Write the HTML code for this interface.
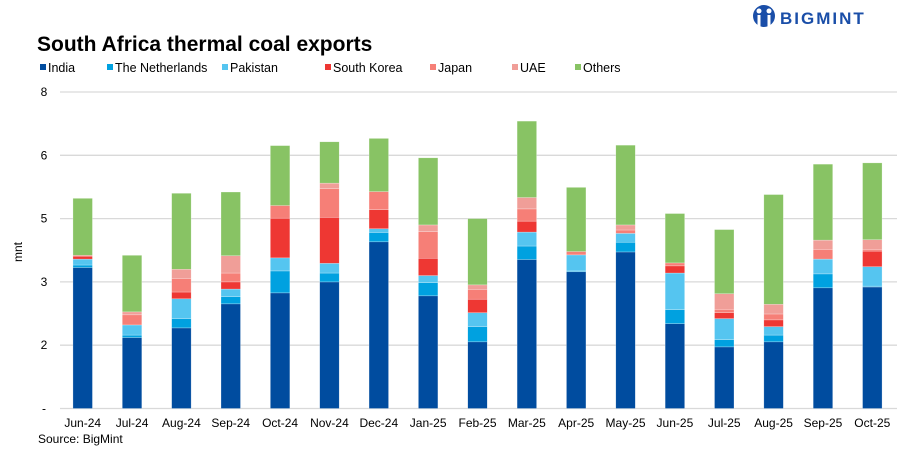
<!DOCTYPE html>
<html><head><meta charset="utf-8"><style>
body{margin:0;background:#fff;font-family:"Liberation Sans",Arial,sans-serif;}
#wrap{position:relative;width:907px;height:453px;overflow:hidden;}
svg text{font-family:"Liberation Sans",Arial,sans-serif;}
</style></head><body>
<div id="wrap">
<svg id="chart" width="907" height="453">
 <g>
  <circle cx="764" cy="16" r="11" fill="#1a4ea8"/>
  <circle cx="759" cy="11" r="2.5" fill="#fff"/><circle cx="769" cy="11" r="2.5" fill="#fff"/>
  <rect x="757.5" y="15" width="3" height="12" fill="#fff"/><rect x="767.5" y="15" width="3" height="12" fill="#fff"/>
  <text x="780" y="24" font-size="17" font-weight="bold" fill="#1a4ea8" letter-spacing="2">BIGMINT</text>
 </g>
 <text x="37" y="51" font-size="21" font-weight="bold" fill="#000">South Africa thermal coal exports</text>
 <g id="legend"></g>
 <g id="grid"></g>
 <g id="bars"></g>
 <g id="xlabels"></g>
 <text x="22" y="252" font-size="12" fill="#000" transform="rotate(-90 22 252)" text-anchor="middle">mnt</text>
 <text x="38" y="443" font-size="12" fill="#000">Source: BigMint</text>
</svg>
</div>
<script>
const categories=["Jun-24","Jul-24","Aug-24","Sep-24","Oct-24","Nov-24","Dec-24","Jan-25","Feb-25","Mar-25","Apr-25","May-25","Jun-25","Jul-25","Aug-25","Sep-25","Oct-25"];
const seriesNames=["India","The Netherlands","Pakistan","South Korea","Japan","UAE","Others"];
const india=[3.34,1.68,1.91,2.48,2.74,3.00,3.95,2.67,1.58,3.53,3.24,3.71,2.01,1.46,1.58,2.86,2.88];
const netherlands=[0.06,0.06,0.22,0.17,0.52,0.21,0.22,0.31,0.36,0.32,0.02,0.23,0.33,0.17,0.16,0.33,0.02];
const pakistan=[0.14,0.24,0.47,0.18,0.31,0.23,0.09,0.17,0.33,0.33,0.38,0.21,0.87,0.50,0.20,0.35,0.46];
const southKorea=[0.07,0.00,0.16,0.17,0.94,1.09,0.45,0.41,0.32,0.26,0.00,0.00,0.17,0.14,0.16,0.00,0.37];
const japan=[0.02,0.24,0.32,0.21,0.30,0.68,0.43,0.63,0.23,0.29,0.08,0.08,0.07,0.08,0.14,0.23,0.04];
const uae=[0.00,0.07,0.22,0.41,0.00,0.13,0.00,0.16,0.11,0.27,0.00,0.12,0.00,0.37,0.23,0.22,0.23];
const others=[1.35,1.34,1.80,1.51,1.42,0.98,1.26,1.59,1.57,1.81,1.52,1.89,1.17,1.52,2.60,1.80,1.82];
const tickValues=[0,1.5,3,4.5,6,7.5];
const tickLabels=["-","2","3","5","6","8"];
const series=[india,netherlands,pakistan,southKorea,japan,uae,others];
const colors=["#004C9F","#00A1E0","#55C5F0","#EE3733","#F67F77","#F09E98","#88C364"];
const NS="http://www.w3.org/2000/svg";
const y0=408.5, pxPerUnit=42.2, x0=82.7, step=49.35, bw=19.5;
const yScale=v=>y0-v*pxPerUnit;
const xScale=i=>x0+i*step;
function mk(tag,attrs,parent){const e=document.createElementNS(NS,tag);for(const k in attrs)e.setAttribute(k,attrs[k]);parent.appendChild(e);return e;}
const grid=document.getElementById('grid');
tickValues.forEach((v,i)=>{
 const l=mk('line',{x1:60,x2:897,y1:yScale(v),y2:yScale(v),stroke:'#d9d9d9','stroke-width':1.3},grid);
 
 
 const t=mk('text',{x:44,y:yScale(v)+4,'font-size':12,'text-anchor':'middle',fill:'#000'},grid);
 t.textContent=tickLabels[i];
 
 
});
const bars=document.getElementById('bars');
categories.forEach((c,i)=>{
 let cum=0;
 series.forEach((s,k)=>{
  const v=s[i]; if(v<=0){return;}
  const r=mk('rect',{x:xScale(i)-bw/2,y:yScale(cum+v),width:bw,height:v*pxPerUnit,fill:colors[k],stroke:'rgba(255,255,255,0.5)','stroke-width':0.5},bars);
  
  
  cum+=v;
 });
 const t=mk('text',{x:xScale(i),y:427,'font-size':12,'text-anchor':'middle',fill:'#000'},document.getElementById('xlabels'));
 t.textContent=c;
 
 
});
const legend=document.getElementById('legend');
const legX=[40,107,222,325,430,512,575];
seriesNames.forEach((n,k)=>{
 const r=mk('rect',{x:legX[k],y:64,width:6,height:6,fill:colors[k]},legend);
 
 
 const t=mk('text',{x:legX[k]+8,y:72,'font-size':12.5,fill:'#000'},legend);
 t.textContent=n;
 
 
});
</script>
</body></html>
